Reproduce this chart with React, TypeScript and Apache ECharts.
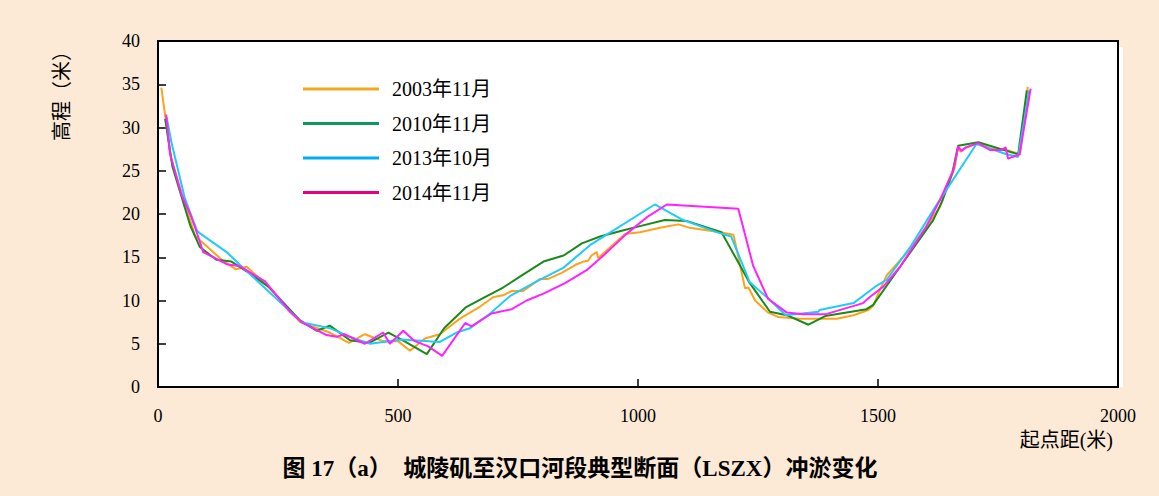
import React, { useEffect, useRef } from "react";
import * as echarts from "echarts";

// 起点距(米), 高程(米)
const s2003: [number, number][] = [
  [7, 34.6], [27, 26.4], [77, 17.5], [91, 16.8], [133, 14.7], [162, 13.6], [185, 13.9], [230, 11.6],
  [296, 7.5], [358, 6.3], [398, 5.1], [431, 6.1], [469, 5.3], [500, 5.3], [525, 4.2], [556, 5.6],
  [587, 6.1], [629, 7.9], [671, 9.3], [699, 10.4], [719, 10.6], [737, 11.1], [761, 11.1], [796, 12.5],
  [813, 12.5], [841, 13.2], [869, 14.1], [886, 14.5], [896, 14.6], [903, 15.2], [914, 15.6], [917, 14.9],
  [973, 17.7], [1004, 17.9], [1046, 18.4], [1084, 18.8], [1108, 18.4], [1171, 17.9], [1199, 17.6],
  [1223, 11.4], [1230, 11.5], [1244, 10.0], [1271, 8.6], [1292, 8.1], [1337, 7.9], [1414, 7.9],
  [1449, 8.3], [1480, 8.9], [1490, 9.4], [1507, 11.6], [1518, 12.9], [1574, 16.4], [1629, 20.8],
  [1660, 25.4], [1667, 27.8], [1672, 27.2], [1680, 27.6], [1709, 28.2], [1733, 27.6], [1768, 27.4],
  [1796, 26.9], [1812, 34.7],
];

const s2010: [number, number][] = [
  [15, 31.0], [30, 25.5], [67, 18.7], [87, 16.2], [96, 15.8], [122, 14.7], [153, 14.5], [192, 13.1],
  [230, 11.6], [296, 7.7], [331, 6.5], [358, 7.1], [400, 5.4], [440, 5.1], [480, 6.3], [513, 5.3],
  [560, 3.8], [596, 6.8], [641, 9.2], [681, 10.4], [719, 11.5], [758, 12.9], [803, 14.5], [845, 15.2],
  [883, 16.6], [921, 17.4], [962, 18.0], [1004, 18.6], [1056, 19.3], [1101, 19.2], [1174, 17.9],
  [1233, 12.0], [1275, 8.7], [1310, 8.3], [1355, 7.2], [1390, 8.2], [1476, 9.0], [1490, 9.5],
  [1546, 13.9], [1615, 19.3], [1633, 21.4], [1655, 24.8], [1667, 27.9], [1709, 28.3], [1792, 26.9],
  [1810, 34.3],
];

const s2013: [number, number][] = [
  [18, 31.2], [28, 28.3], [56, 21.8], [81, 18.1], [89, 17.7], [143, 15.6], [171, 14.1], [212, 12.0],
  [299, 7.5], [358, 6.8], [400, 5.8], [442, 5.0], [508, 5.5], [586, 5.2], [622, 6.3], [650, 6.8],
  [692, 8.5], [733, 10.5], [789, 12.2], [845, 13.8], [900, 16.4], [1035, 21.1], [1094, 19.3],
  [1164, 17.9], [1194, 17.4], [1233, 12.1], [1268, 10.4], [1308, 8.3], [1376, 8.7], [1378, 8.9],
  [1449, 9.7], [1497, 11.7], [1518, 12.4], [1570, 16.4], [1619, 20.8], [1705, 28.1], [1768, 26.9],
  [1792, 26.6], [1815, 34.3],
];

const s2014: [number, number][] = [
  [17, 31.5], [25, 27.0], [49, 22.2], [67, 20.0], [77, 18.5], [94, 15.6], [119, 14.9], [143, 14.2],
  [169, 14.0], [223, 12.2], [275, 8.7], [299, 7.5], [351, 6.0], [372, 5.8], [388, 6.1], [431, 5.0],
  [469, 6.3], [483, 5.0], [511, 6.5], [535, 5.3], [563, 4.7], [592, 3.6], [640, 7.4], [653, 7.0],
  [695, 8.5], [737, 9.0], [768, 10.0], [803, 10.8], [848, 12.0], [893, 13.5], [928, 15.2], [976, 17.7],
  [1018, 19.6], [1060, 21.1], [1209, 20.6], [1240, 14.0], [1271, 10.2], [1310, 8.6], [1344, 8.4],
  [1390, 8.4], [1469, 9.7], [1483, 10.4], [1511, 11.6], [1546, 13.9], [1600, 18.5], [1629, 21.6],
  [1657, 25.1], [1667, 27.8], [1674, 27.3], [1683, 27.7], [1709, 28.2], [1733, 27.4], [1757, 27.4],
  [1766, 27.7], [1771, 26.4], [1795, 26.9], [1818, 34.5],
];

const seriesNames = ["2003年11月", "2010年11月", "2013年10月", "2014年11月"];
const seriesData = [s2003, s2010, s2013, s2014];
const lineColors = ["#FFA21A", "#1A8A1A", "#1FCBFA", "#FF22FF"];
const legendColors = ["#F2A81D", "#0A9A5E", "#00AEEF", "#E6007E"];

const xTicks = { min: 0, max: 2000, interval: 500 };
const yTicks = { min: 0, max: 40, interval: 5 };

const titleText = "图 17（a）  城陵矶至汉口河段典型断面（LSZX）冲淤变化";
const xName = "起点距(米)";
const yName = "高程（米）";

const SERIF = "'Liberation Serif', 'Times New Roman', 'Noto Sans CJK SC', serif";

export default function App() {
  const ref = useRef<HTMLDivElement>(null);
  useEffect(() => {
    if (!ref.current) return;
    const chart = echarts.init(ref.current, undefined, { renderer: "svg" });
    const option: any = {
      animation: false,
      backgroundColor: "#FCE9D6",
      grid: {
        left: 158, right: 41, top: 41, bottom: 109,
        show: true, backgroundColor: "#ffffff", borderColor: "#000", borderWidth: 2,
      },
      xAxis: {
        type: "value", ...xTicks,
        axisLine: { show: true, lineStyle: { color: "#000", width: 2 } },
        axisTick: { show: true, inside: true, length: 8, lineStyle: { color: "#000", width: 1.5 } },
        axisLabel: { margin: 20, color: "#000", fontFamily: SERIF, fontSize: 18, formatter: (v: number) => String(v) },
        splitLine: { show: false },
      },
      yAxis: {
        type: "value", ...yTicks,
        axisLine: { show: true, lineStyle: { color: "#000", width: 2 } },
        axisTick: { show: true, inside: true, length: 8, lineStyle: { color: "#000", width: 1.5 } },
        axisLabel: { margin: 18, color: "#000", fontFamily: SERIF, fontSize: 18, formatter: (v: number) => String(v) },
        splitLine: { show: false },
      },
      legend: {
        orient: "vertical", left: 303, top: 79, padding: 0,
        itemWidth: 76, itemHeight: 20, itemGap: 14.5,
        textStyle: { fontFamily: SERIF, fontSize: 20, color: "#000", padding: [0, 0, 0, 8] },
        data: seriesNames.map((n, i) => ({
          name: n,
          icon: "path://M0,9 L76,9 L76,12 L0,12 Z",
          itemStyle: { color: legendColors[i] },
        })),
      },
      graphic: [
        { type: "rect", shape: { x: 1119, y: 47, width: 4, height: 340 }, style: { fill: "#ffffff" }, silent: true },
        {
          type: "text", x: 60, y: 91, rotation: Math.PI / 2,
          style: { text: yName, fontSize: 20, fontFamily: "'Noto Sans CJK SC', sans-serif", fill: "#000", textAlign: "center", textVerticalAlign: "middle" },
        },
        {
          type: "text", x: 1113, y: 440,
          style: { text: xName, fontSize: 20, fontFamily: SERIF, fill: "#000", textAlign: "right", textVerticalAlign: "middle" },
        },
        {
          type: "text", x: 580, y: 468,
          style: { text: titleText, fontSize: 23, fontWeight: "bold", fontFamily: SERIF, fill: "#000", textAlign: "center", textVerticalAlign: "middle" },
        },
      ],
      series: seriesNames.map((n, i) => ({
        name: n,
        type: "line",
        data: seriesData[i],
        symbol: "none",
        showSymbol: false,
        lineStyle: { color: lineColors[i], width: 2 },
        itemStyle: { color: lineColors[i] },
        z: 2 + i,
      })),
    };
    chart.setOption(option);
    return () => chart.dispose();
  }, []);
  return (
    <div
      ref={ref}
      style={{ position: "fixed", left: 0, top: 0, width: 1159, height: 496 }}
    />
  );
}
